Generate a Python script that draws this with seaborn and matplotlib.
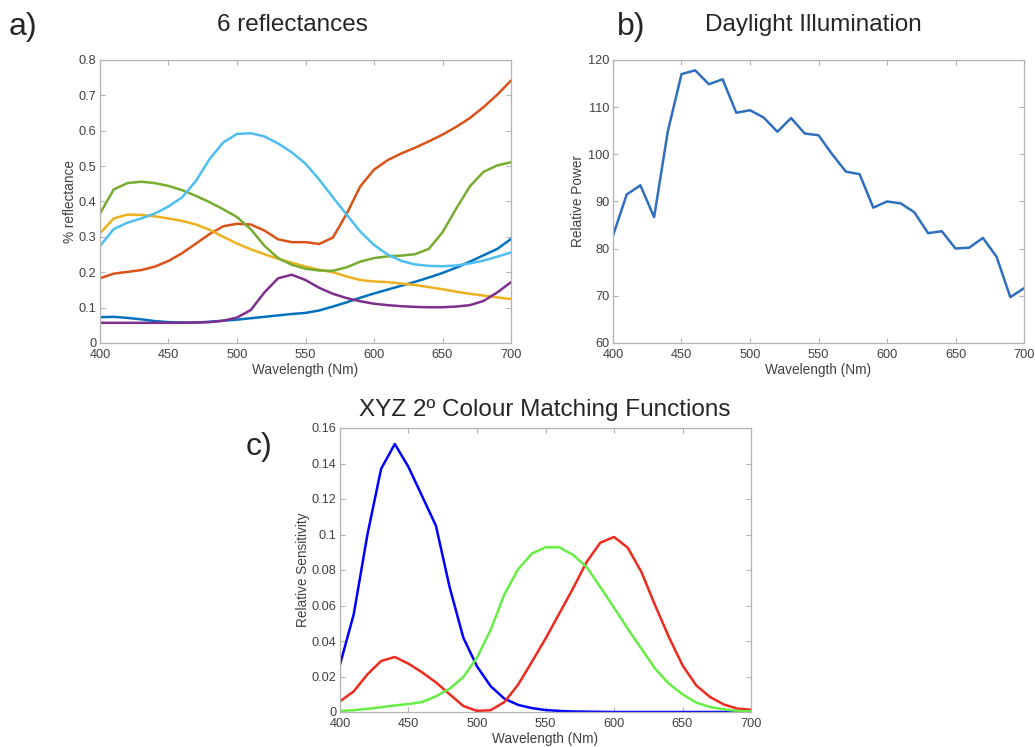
import numpy as np
import pandas as pd
import matplotlib
matplotlib.use("Agg")
import matplotlib.pyplot as plt
from matplotlib.ticker import FuncFormatter, MultipleLocator
import seaborn as sns

# ---------------- data ----------------
wavelength = list(range(400, 701, 10))

refl_blue = [0.073, 0.074, 0.071, 0.067, 0.062, 0.059, 0.058, 0.058, 0.060, 0.063, 0.066,
             0.070, 0.074, 0.078, 0.082, 0.085, 0.092, 0.103, 0.115, 0.128, 0.140, 0.151,
             0.162, 0.173, 0.185, 0.198, 0.213, 0.230, 0.248, 0.266, 0.294]
refl_orange = [0.183, 0.196, 0.201, 0.206, 0.216, 0.232, 0.254, 0.281, 0.308, 0.330, 0.337,
               0.335, 0.318, 0.293, 0.285, 0.285, 0.280, 0.298, 0.365, 0.443, 0.490, 0.517,
               0.536, 0.552, 0.570, 0.589, 0.611, 0.636, 0.667, 0.702, 0.742]
refl_yellow = [0.310, 0.352, 0.363, 0.362, 0.358, 0.352, 0.345, 0.335, 0.320, 0.300, 0.281,
               0.265, 0.251, 0.238, 0.227, 0.216, 0.207, 0.200, 0.188, 0.178, 0.174, 0.172,
               0.168, 0.164, 0.158, 0.152, 0.145, 0.139, 0.134, 0.129, 0.124]
refl_purple = [0.057, 0.057, 0.057, 0.057, 0.057, 0.057, 0.057, 0.058, 0.059, 0.063, 0.072,
               0.093, 0.143, 0.183, 0.193, 0.178, 0.156, 0.139, 0.127, 0.118, 0.111, 0.107,
               0.104, 0.102, 0.101, 0.101, 0.103, 0.107, 0.119, 0.143, 0.172]
refl_green = [0.366, 0.434, 0.452, 0.456, 0.452, 0.444, 0.432, 0.416, 0.398, 0.378, 0.356,
              0.322, 0.275, 0.240, 0.221, 0.210, 0.205, 0.204, 0.214, 0.230, 0.240, 0.245,
              0.247, 0.251, 0.266, 0.313, 0.380, 0.443, 0.484, 0.502, 0.511]
refl_cyan = [0.274, 0.322, 0.340, 0.352, 0.366, 0.386, 0.412, 0.458, 0.520, 0.567, 0.591,
             0.593, 0.584, 0.564, 0.539, 0.507, 0.462, 0.412, 0.363, 0.315, 0.277, 0.250,
             0.232, 0.222, 0.218, 0.217, 0.219, 0.225, 0.233, 0.244, 0.256]

daylight = [82.75, 91.49, 93.43, 86.68, 104.86, 117.01, 117.81, 114.86, 115.92, 108.81,
            109.35, 107.80, 104.79, 107.69, 104.41, 104.05, 100.00, 96.33, 95.79, 88.69,
            90.01, 89.60, 87.70, 83.29, 83.70, 80.03, 80.21, 82.28, 78.28, 69.72, 71.61]

cmf_x = [0.0060, 0.0116, 0.0212, 0.0287, 0.0310, 0.0272, 0.0223, 0.0167, 0.0100, 0.0034,
         0.0006, 0.0010, 0.0056, 0.0154, 0.0282, 0.0413, 0.0554, 0.0695, 0.0845, 0.0954,
         0.0986, 0.0926, 0.0789, 0.0601, 0.0423, 0.0263, 0.0150, 0.0085, 0.0043, 0.0019, 0.0013]
cmf_y = [0.0006, 0.0010, 0.0018, 0.0027, 0.0037, 0.0045, 0.0056, 0.0088, 0.0131, 0.0197,
         0.0306, 0.0464, 0.0663, 0.0804, 0.0892, 0.0928, 0.0928, 0.0886, 0.0817, 0.0704,
         0.0588, 0.0469, 0.0357, 0.0244, 0.0160, 0.0100, 0.0053, 0.0028, 0.0015, 0.0006, 0.0004]
cmf_z = [0.0267, 0.0550, 0.0999, 0.1370, 0.1510, 0.1380, 0.1215, 0.1050, 0.0704, 0.0419,
         0.0257, 0.0145, 0.0075, 0.0040, 0.0022, 0.0011, 0.0006, 0.0003, 0.0002, 0.0001,
         0.0, 0.0, 0.0, 0.0, 0.0, 0.0, 0.0, 0.0, 0.0, 0.0, 0.0]

refl_names = ["s1", "s2", "s3", "s4", "s5", "s6"]
refl_colors = ["#0072BD", "#D95319", "#EDB120", "#7E2F8E", "#77AC30", "#4DBEEE"]
cmf_names = ["z", "x", "y"]
cmf_colors = ["#0000ff", "#ee2a1e", "#66ee44"]

# ---------------- style ----------------
sns.set_style("ticks")
plt.rcParams["font.family"] = ["Liberation Sans", "DejaVu Sans"]
TICKC = "#404040"
SPINEC = "#b3b3b3"

W, H = 1035, 747
fig = plt.figure(figsize=(W / 100, H / 100), dpi=100)


def ax_at(l, t, r, b):
    return fig.add_axes([l / W, 1 - b / H, (r - l) / W, (b - t) / H])


def style(ax, ylim, ystep, ylabel, ylab_x):
    ax.set_xlim(400, 700)
    ax.set_ylim(*ylim)
    ax.xaxis.set_major_locator(MultipleLocator(50))
    ax.yaxis.set_major_locator(MultipleLocator(ystep))
    ax.yaxis.set_major_formatter(FuncFormatter(lambda v, p: f"{v:g}"))
    ax.tick_params(direction="in", length=3.5, width=0.8, color=SPINEC,
                   labelsize=9.2, labelcolor=TICKC, top=True, right=True)
    ax.tick_params(axis="x", pad=4.5)
    ax.tick_params(axis="y", pad=2.5)
    for s in ax.spines.values():
        s.set_color(SPINEC)
        s.set_linewidth(0.9)
        s.set_visible(True)
    ax.set_xlabel("Wavelength (Nm)", fontsize=9.8, color=TICKC, labelpad=1.5)
    ax.set_ylabel(ylabel, fontsize=9.8, color=TICKC)
    ax.yaxis.set_label_coords(ylab_x, 0.5)
    if ax.get_legend() is not None:
        ax.get_legend().remove()


# panel a
ax_a = ax_at(100, 60, 511, 343)
series = [refl_blue, refl_orange, refl_yellow, refl_purple, refl_green, refl_cyan]
df_a = pd.DataFrame({
    "wl": wavelength * 6,
    "val": sum(series, []),
    "s": sum([[n] * len(wavelength) for n in refl_names], []),
})
sns.lineplot(data=df_a, x="wl", y="val", hue="s", hue_order=refl_names,
             palette=refl_colors, linewidth=1.8, ax=ax_a, legend=False)
style(ax_a, (0, 0.8), 0.1, "% reflectance", -0.055)

# panel b
ax_b = ax_at(613, 60, 1024, 343)
df_b = pd.DataFrame({"wl": wavelength, "val": daylight})
sns.lineplot(data=df_b, x="wl", y="val", color="#2f6fbd", linewidth=1.8, ax=ax_b)
style(ax_b, (60, 120), 10, "Relative Power", -0.068)

# panel c
ax_c = ax_at(340, 428, 751, 712)
df_c = pd.DataFrame({
    "wl": wavelength * 3,
    "val": cmf_z + cmf_x + cmf_y,
    "s": sum([[n] * len(wavelength) for n in cmf_names], []),
})
sns.lineplot(data=df_c, x="wl", y="val", hue="s", hue_order=cmf_names,
             palette=cmf_colors, linewidth=1.8, ax=ax_c, legend=False)
style(ax_c, (0, 0.16), 0.02, "Relative Sensitivity", -0.073)

# titles and panel letters
fig.text(292 / W, 1 - 25 / H, "6 reflectances", fontsize=17.5, ha="center", va="center")
fig.text(813 / W, 1 - 25 / H, "Daylight Illumination", fontsize=17.5, ha="center", va="center")
fig.text(545 / W, 1 - 410 / H, "XYZ 2º Colour Matching Functions", fontsize=17.5,
         ha="center", va="center")
fig.text(9 / W, 1 - 27 / H, "a)", fontsize=23, ha="left", va="center")
fig.text(617 / W, 1 - 27 / H, "b)", fontsize=23, ha="left", va="center")
fig.text(246 / W, 1 - 447 / H, "c)", fontsize=23, ha="left", va="center")

fig.savefig("out.png", dpi=100, facecolor="white")
